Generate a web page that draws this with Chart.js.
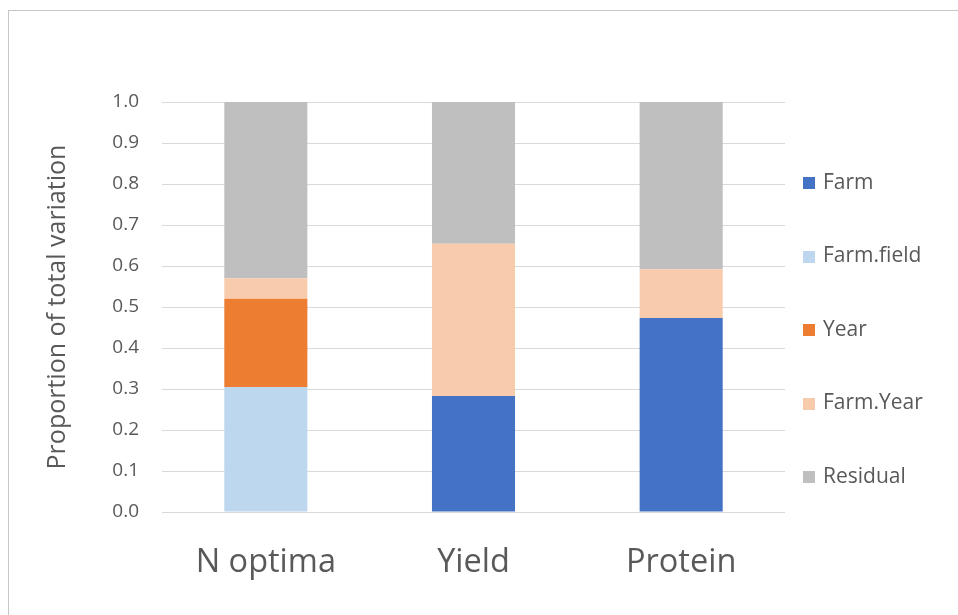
<!DOCTYPE html>
<html>
<head>
<meta charset="utf-8">
<script src="https://cdn.jsdelivr.net/npm/chart.js@4/dist/chart.umd.min.js"></script>
<style>
  html, body { margin: 0; padding: 0; background: #fff; overflow: hidden; }
  #wrap { position: relative; width: 958px; height: 615px; }
  #frame { position: absolute; left: 8px; top: 10px; width: 980px; height: 640px; border: 1px solid #c6c6c6; box-sizing: border-box; pointer-events: none; }
  canvas { position: absolute; left: 0; top: 0; }
</style>
</head>
<body>
<div id="wrap">
  <div id="frame"></div>
  <canvas id="chart" width="958" height="615"></canvas>
</div>
<script>
// Variance components, as a proportion of total variation
const categories = ['N optima', 'Yield', 'Protein'];
const farm       = [0,     0.283, 0.473];
const farmField  = [0.305, 0,     0];
const year       = [0.215, 0,     0];
const farmYear   = [0.050, 0.371, 0.119];
const residual   = [0.430, 0.346, 0.408];
const yTicks     = [0.0, 0.1, 0.2, 0.3, 0.4, 0.5, 0.6, 0.7, 0.8, 0.9, 1.0];

const seriesNames  = ['Farm', 'Farm.field', 'Year', 'Farm.Year', 'Residual'];
const seriesValues = [farm, farmField, year, farmYear, residual];
const seriesColors = ['#4472C4', '#BDD7EE', '#ED7D31', '#F8CBAD', '#BFBFBF'];

const textColor = '#595959';
const fontFamily = "'Open Sans', 'Noto Sans', sans-serif";

// Legend stacked down the right-hand side, one entry per series
const sideLegend = {
  id: 'sideLegend',
  afterDraw(chart) {
    const {ctx, chartArea} = chart;
    const x0 = chartArea.right + 18;
    const y0 = chartArea.top + 81;
    const step = 73.5;
    const box = 12;
    ctx.save();
    ctx.font = '21px ' + fontFamily;
    ctx.textBaseline = 'middle';
    ctx.textAlign = 'left';
    chart.data.datasets.forEach((ds, i) => {
      const yc = y0 + i * step;
      ctx.fillStyle = ds.backgroundColor;
      ctx.fillRect(x0, Math.round(yc - box / 2), box, box);
      ctx.fillStyle = textColor;
      ctx.fillText(ds.label, x0 + 20, yc);
    });
    ctx.restore();
  }
};

new Chart(document.getElementById('chart'), {
  type: 'bar',
  data: {
    labels: categories,
    datasets: seriesNames.map((name, i) => ({
      label: name,
      data: seriesValues[i],
      backgroundColor: seriesColors[i],
      borderWidth: 0,
      barPercentage: 0.4,
      categoryPercentage: 1.0
    }))
  },
  options: {
    responsive: false,
    animation: false,
    layout: { padding: { left: 0, top: 102, right: 173, bottom: 0 } },
    plugins: {
      legend: { display: false },
      tooltip: { enabled: false }
    },
    scales: {
      x: {
        stacked: true,
        grid: { display: false },
        border: { display: false },
        ticks: {
          color: textColor,
          padding: 23,
          font: { family: fontFamily, size: 32.5 }
        },
        afterFit(scale) { scale.height = 103; }
      },
      y: {
        stacked: true,
        min: 0,
        max: 1,
        afterBuildTicks(scale) { scale.ticks = yTicks.map(v => ({ value: v })); },
        grid: { color: '#d9d9d9', lineWidth: 1, drawTicks: false },
        border: { display: false },
        ticks: {
          color: textColor,
          padding: 23,
          font: { family: fontFamily, size: 19 },
          callback: v => Number(v).toFixed(1)
        },
        title: {
          display: true,
          text: 'Proportion of total variation',
          color: textColor,
          font: { family: fontFamily, size: 25 },
          padding: { top: 43, bottom: 0 }
        },
        afterFit(scale) { scale.width = 162; }
      }
    }
  },
  plugins: [sideLegend]
});
</script>
</body>
</html>
